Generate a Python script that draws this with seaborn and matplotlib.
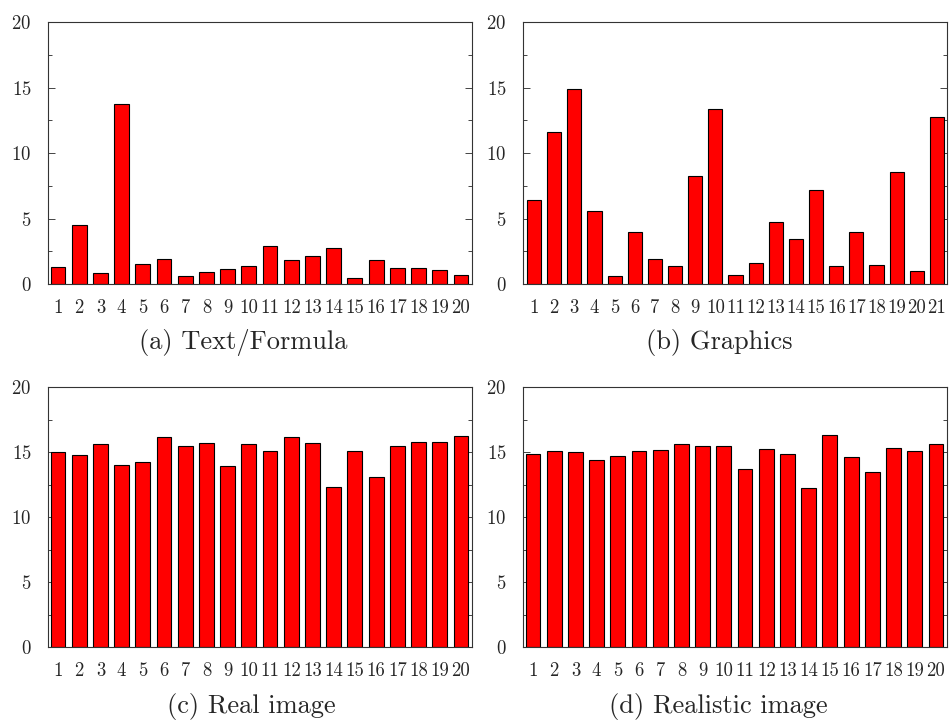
import matplotlib
matplotlib.use("Agg")
import matplotlib.pyplot as plt
from matplotlib.ticker import MultipleLocator
import seaborn as sns
import pandas as pd

# ---- data ----
labels_a = [str(i) for i in range(1, 21)]
values_a = [1.27, 4.52, 0.81, 13.77, 1.55, 1.93, 0.58, 0.89, 1.17, 1.35,
            2.87, 1.86, 2.13, 2.77, 0.46, 1.80, 1.25, 1.25, 1.09, 0.71]

labels_b = [str(i) for i in range(1, 22)]
values_b = [6.38, 11.61, 14.92, 5.54, 0.61, 3.96, 1.91, 1.35, 8.21, 13.34,
            0.69, 1.58, 4.75, 3.41, 7.17, 1.35, 3.94, 1.47, 8.56, 0.97, 12.73]

labels_c = [str(i) for i in range(1, 21)]
values_c = [14.99, 14.76, 15.58, 13.99, 14.22, 16.14, 15.47, 15.68, 13.91, 15.60,
            15.09, 16.16, 15.68, 12.28, 15.09, 13.07, 15.47, 15.75, 15.78, 16.24]

labels_d = [str(i) for i in range(1, 21)]
values_d = [14.88, 15.04, 14.99, 14.37, 14.73, 15.06, 15.12, 15.65, 15.50, 15.47,
            13.73, 15.24, 14.81, 12.20, 16.32, 14.65, 13.48, 15.27, 15.09, 15.65]

captions = ["(a) Text/Formula", "(b) Graphics", "(c) Real image", "(d) Realistic image"]
y_ticks = [0, 5, 10, 15, 20]

sns.set_style("ticks")
plt.rcParams["font.family"] = ["cmr10", "DejaVu Serif"]
plt.rcParams["axes.formatter.use_mathtext"] = True

fig = plt.figure(figsize=(9.5, 7.23), dpi=100)

W = 950.0
H = 723.0
panels = [
    (labels_a, values_a, (48, 22, 472, 284), 243, 343),
    (labels_b, values_b, (523, 22, 947, 284), 719, 343),
    (labels_c, values_c, (48, 387, 472, 647), 251, 706),
    (labels_d, values_d, (523, 387, 947, 647), 718, 706),
]

for (labs, vals, (x0, y0, x1, y1), cx, cy), cap in zip(panels, captions):
    ax = fig.add_axes([x0 / W, (H - y1) / H, (x1 - x0) / W, (y1 - y0) / H])
    df = pd.DataFrame({"cat": labs, "val": vals})
    sns.barplot(data=df, x="cat", y="val", order=labs, ax=ax, color="#ff0000",
                saturation=1, edgecolor="black", linewidth=0.8, width=0.7)
    n = len(labs)
    if n == 21:
        ax.set_xlim(-0.55, n - 0.5)
    else:
        ax.set_xlim(-0.47, n - 0.48)
    ax.set_ylim(0, 20)
    ax.set_yticks(y_ticks)
    ax.yaxis.set_minor_locator(MultipleLocator(2.5))
    ax.tick_params(axis="y", which="both", direction="in", left=True, right=True,
                   labelsize=13.5, pad=12, width=0.6)
    ax.tick_params(axis="y", which="major", length=5)
    ax.tick_params(axis="y", which="minor", length=3)
    ax.tick_params(axis="x", length=0, labelsize=13.5, pad=11)
    ax.set_xlabel("")
    ax.set_ylabel("")
    for s in ax.spines.values():
        s.set_visible(True)
        s.set_linewidth(0.8)
        s.set_color("#333333")
    fig.text(cx / W, (H - cy) / H, cap, ha="center", va="center", fontsize=19)

fig.savefig("out.png", dpi=100)
